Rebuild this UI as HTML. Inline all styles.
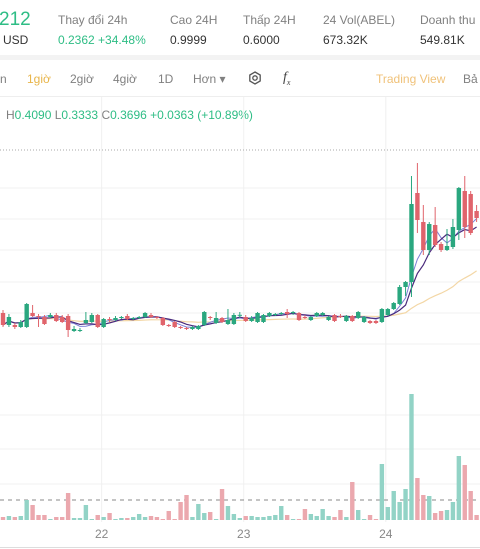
<!DOCTYPE html>
<html><head><meta charset="utf-8">
<style>
html,body{margin:0;padding:0;background:#fff;width:480px;height:549px;overflow:hidden;font-family:"Liberation Sans","Noto Sans CJK SC",sans-serif;}
.t{position:absolute;white-space:nowrap;font-size:12px;}
.g{color:#2ebd85}.l{color:#808080}.d{color:#333}
</style></head><body>
<div style="position:relative;width:480px;height:549px;">
<div class="t g" style="left:-1px;top:9px;font-size:19px;">212</div>
<div class="t d" style="left:3px;top:33px;font-size:12px;">USD</div>
<div class="t l" style="left:58px;top:13px;">Thay đổi 24h</div>
<div class="t g" style="left:58px;top:33px;">0.2362 +34.48%</div>
<div class="t l" style="left:170px;top:13px;">Cao 24H</div>
<div class="t d" style="left:170px;top:33px;">0.9999</div>
<div class="t l" style="left:243px;top:13px;">Thấp 24H</div>
<div class="t d" style="left:243px;top:33px;">0.6000</div>
<div class="t l" style="left:323px;top:13px;">24 Vol(ABEL)</div>
<div class="t d" style="left:323px;top:33px;">673.32K</div>
<div class="t l" style="left:420px;top:13px;">Doanh thu</div>
<div class="t d" style="left:420px;top:33px;">549.81K</div>
<div style="position:absolute;left:0;top:55px;width:480px;height:5px;background:#f3f3f3;"></div>
<div class="t l" style="left:0px;top:72px;">n</div>
<div class="t" style="left:27px;top:72px;color:#e8b54a;">1giờ</div>
<div class="t l" style="left:70px;top:72px;">2giờ</div>
<div class="t l" style="left:113px;top:72px;">4giờ</div>
<div class="t l" style="left:158px;top:72px;">1D</div>
<div class="t l" style="left:193px;top:72px;">Hơn ▾</div>
<svg style="position:absolute;left:248px;top:71px" width="14" height="14"><polygon points="7,1 12.2,4 12.2,10 7,13 1.8,10 1.8,4" fill="none" stroke="#555" stroke-width="1.3"/><circle cx="7" cy="7" r="2.2" fill="none" stroke="#555" stroke-width="1.3"/></svg>
<div class="t" style="left:283px;top:70px;font-style:italic;font-family:'Liberation Serif',serif;font-size:14px;color:#444">f<sub style="font-size:8px">x</sub></div>
<div class="t" style="left:376px;top:72px;color:#f0c27a;">Trading View</div>
<div class="t l" style="left:463px;top:72px;">Bả</div>
<div style="position:absolute;left:0;top:96px;width:480px;height:1px;background:#eee;"></div>
<div class="t" style="left:6px;top:108px;"><span class="l">H</span><span class="g">0.4090 </span><span class="l">L</span><span class="g">0.3333 </span><span class="l">C</span><span class="g">0.3696 +0.0363 (+10.89%)</span></div>
<svg id="chart" style="position:absolute;left:0;top:0" width="480" height="549"></svg>
</div>
<script>
const opens=[.235,.175,.175,.165,.165,.235,.22,.215,.215,.225,.215,.22,.145,.145,.185,.19,.225,.165,.205,.2,.21,.22,.205,.21,.215,.225,.215,.21,.175,.19,.165,.16,.155,.155,.175,.215,.185,.21,.18,.18,.225,.215,.195,.19,.19,.22,.225,.23,.24,.235,.235,.215,.2,.22,.225,.2,.225,.22,.195,.22,.21,.19,.195,.195,.19,.225,.255,.28,.365,.39,.835,.69,.55,.675,.58,.55,.565,.65,.845,.83,.745];
const closes=[.175,.215,.165,.19,.28,.22,.215,.18,.225,.195,.19,.15,.155,.15,.2,.225,.165,.205,.2,.21,.215,.205,.21,.215,.235,.215,.21,.175,.17,.165,.16,.155,.165,.17,.24,.21,.21,.19,.2,.225,.226,.195,.21,.235,.225,.235,.23,.235,.23,.24,.2,.21,.215,.235,.235,.215,.195,.215,.22,.195,.24,.215,.185,.185,.255,.255,.285,.365,.39,.78,.70,.55,.68,.575,.55,.57,.665,.86,.665,.635,.71];
const highs=[.25,.23,.185,.2,.285,.275,.23,.225,.235,.235,.225,.23,.17,.16,.24,.235,.23,.21,.215,.22,.22,.23,.215,.22,.24,.235,.22,.215,.18,.195,.17,.165,.17,.175,.245,.22,.24,.215,.255,.235,.24,.225,.22,.24,.23,.24,.235,.24,.255,.245,.24,.225,.22,.24,.24,.22,.23,.23,.225,.225,.245,.22,.2,.2,.26,.26,.29,.375,.395,.92,.985,.775,.69,.765,.59,.655,.705,.865,.92,.845,.775];
const lows=[.165,.165,.155,.16,.16,.215,.165,.175,.21,.19,.185,.115,.14,.14,.18,.185,.16,.16,.19,.195,.205,.2,.2,.205,.21,.21,.205,.17,.165,.16,.155,.15,.15,.15,.17,.2,.18,.185,.175,.175,.21,.19,.19,.185,.185,.215,.22,.225,.21,.225,.195,.205,.195,.215,.22,.195,.19,.21,.19,.19,.205,.185,.18,.18,.185,.22,.25,.275,.32,.315,.635,.525,.525,.565,.54,.545,.555,.6,.61,.625,.69];
const volumes=[3,4,3,4,20,15,5,5,1,3,3,27,2,2,15,1,5,3,7,1,2,2,3,6,3,4,3,1,9,1,18,25,3,16,7,8,1,31,14,6,2,4,4,3,3,4,5,14,5,1,1,11,6,4,11,4,3,10,3,38,10,1,5,1,56,13,29,18,31,126,42,25,24,7,9,10,18,64,55,29,5];
const dateLabels=["22","23","24"];
const dateIndex=[17,41,65];

const NS="http://www.w3.org/2000/svg";
const svg=document.getElementById('chart');
const xS=i=>3+i*5.92;
const yP=p=>360-p*200;
const yV=v=>520-v;
function mk(tag,at){const e=document.createElementNS(NS,tag);for(const k in at)e.setAttribute(k,at[k]);svg.appendChild(e);return e;}
// grid
[188,219,250,282,313,344,415,449,484].forEach(y=>{const e=mk('line',{x1:0,x2:480,y1:y,y2:y,stroke:'#f0f0f0'});

});
dateIndex.forEach(i=>{const e=mk('line',{x1:xS(i)-2,x2:xS(i)-2,y1:97,y2:522,stroke:'#f0f0f0'});

});
{const e=mk('line',{x1:0,x2:480,y1:150,y2:150,stroke:'#aaa','stroke-dasharray':'1,2'});

}
{const e=mk('line',{x1:0,x2:480,y1:500,y2:500,stroke:'#888','stroke-dasharray':'4,4'});

}
// volume
volumes.forEach((v,i)=>{const up=closes[i]>=opens[i];const e=mk('rect',{x:xS(i)-2.2,y:yV(v),width:4.4,height:v,fill:up?'#92d3c6':'#eba8ae'});

});
// MAs
function ma(n){return closes.map((c,i)=>{const s=closes.slice(Math.max(0,i-n+1),i+1);return s.reduce((a,b)=>a+b,0)/s.length;});}
[[25,'#f3d7a6',1.2],[5,'#7b7fd6',1],[7,'#4a2a7c',1.2]].forEach(([n,col,w])=>{const m=ma(n);const e=mk('polyline',{points:m.map((v,i)=>xS(i)+','+yP(v)).join(' '),fill:'none',stroke:col,'stroke-width':w});

});
// candles
closes.forEach((c,i)=>{const o=opens[i];const up=c>=o;const col=up?'#2aa77f':'#e0646c';
const w=mk('line',{x1:xS(i),x2:xS(i),y1:yP(highs[i]),y2:yP(lows[i]),stroke:col,'stroke-width':1});


const t=yP(Math.max(o,c)),b=yP(Math.min(o,c));
const r=mk('rect',{x:xS(i)-2.2,y:t,width:4.4,height:Math.max(1,b-t),fill:col});

});
dateLabels.forEach((d,k)=>{const e=mk('text',{x:xS(dateIndex[k])-2,y:538,'text-anchor':'middle','font-size':12,fill:'#888','font-family':'Liberation Sans, sans-serif'});e.textContent=d;

});
{const e=mk('line',{x1:0,x2:480,y1:547.5,y2:547.5,stroke:'#ddd'});

}
</script>
</body></html>
